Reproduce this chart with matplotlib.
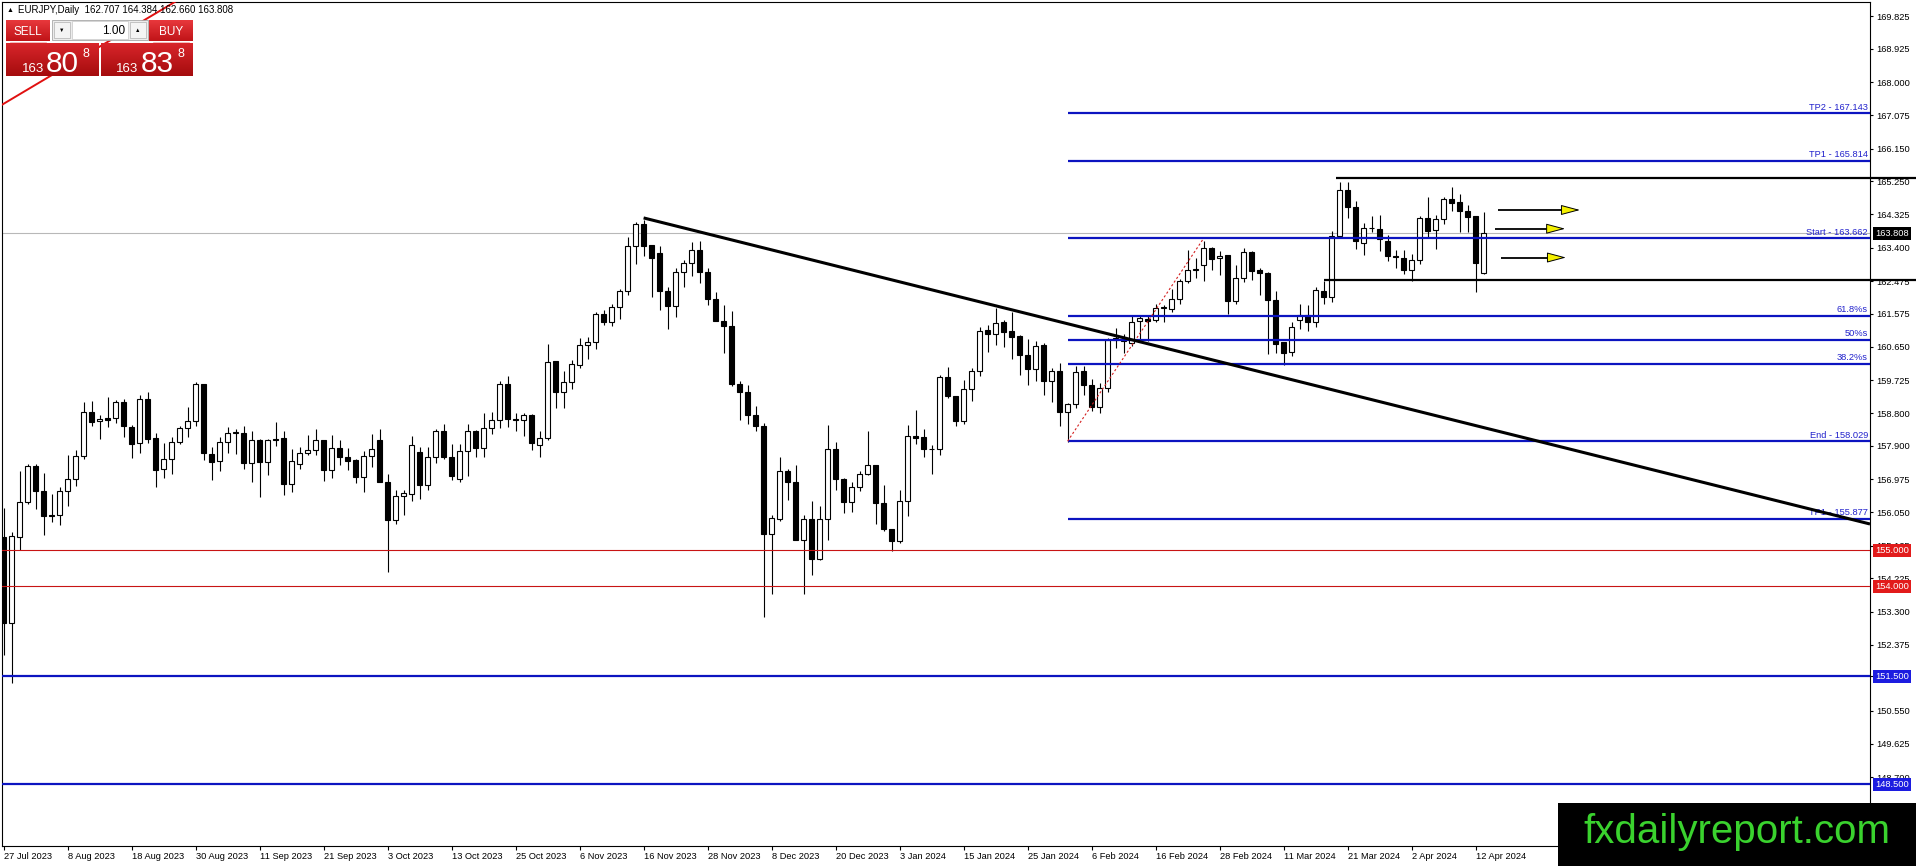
import numpy as np
import matplotlib
matplotlib.use("Agg")
import matplotlib.pyplot as plt
from matplotlib.patches import Rectangle
from matplotlib.colors import LinearSegmentedColormap

plt.rcParams['font.family'] = ['Liberation Sans', 'DejaVu Sans']

# EURJPY daily candles, 27 Jul 2023 .. 15 Apr 2024
OPEN = [155.36, 152.98, 155.38, 156.34, 157.33, 156.66, 155.97, 155.99, 156.65, 156.99,
        157.63, 158.85, 158.58, 158.66, 158.67, 159.11, 158.43, 157.98, 159.21, 158.11,
        157.25, 157.54, 158.01, 158.40, 158.60, 159.63, 157.68, 157.47, 158.02, 158.26,
        158.27, 157.42, 158.05, 157.45, 158.08, 158.11, 156.84, 157.39, 157.71, 157.79,
        158.05, 157.23, 157.85, 157.60, 157.50, 157.03, 157.62, 158.05, 156.91, 155.85,
        156.52, 156.57, 157.74, 156.81, 157.59, 158.30, 157.60, 156.98, 157.76, 158.32,
        157.84, 158.39, 158.62, 159.61, 158.64, 158.63, 158.76, 157.93, 158.11, 160.26,
        159.39, 159.67, 160.15, 160.70, 160.78, 161.56, 161.35, 161.75, 162.19, 163.44,
        164.07, 163.48, 163.25, 162.19, 161.79, 162.72, 162.98, 163.35, 162.73, 161.99,
        161.38, 161.23, 159.62, 159.39, 158.76, 158.46, 155.46, 155.88, 157.21, 156.91,
        155.29, 155.88, 154.76, 155.88, 157.82, 156.99, 156.34, 156.76, 157.12, 157.38,
        156.31, 155.59, 155.25, 156.38, 158.18, 158.14, 157.82, 157.82, 159.81, 159.29,
        158.58, 159.48, 159.97, 161.11, 161.02, 161.34, 161.08, 160.94, 160.43, 160.04,
        160.70, 159.69, 159.97, 158.84, 159.06, 159.99, 159.60, 158.99, 159.50, 160.85,
        160.80, 160.75, 161.36, 161.43, 161.40, 161.74, 161.71, 161.98, 162.48, 162.79,
        162.93, 163.39, 163.11, 163.21, 161.93, 162.56, 163.28, 162.77, 162.70, 161.94,
        160.79, 160.50, 161.40, 161.54, 161.35, 162.21, 162.03, 163.73, 165.01, 164.53,
        163.53, 163.95, 163.93, 163.60, 163.18, 163.13, 162.79, 163.07, 164.22, 163.90,
        164.21, 164.76, 164.66, 164.41, 164.27, 162.707]
HIGH = [156.17, 155.52, 157.19, 157.41, 157.41, 157.14, 156.56, 156.77, 157.65, 157.79,
        159.12, 159.14, 158.75, 159.25, 159.16, 159.21, 158.47, 159.30, 159.40, 158.26,
        157.97, 158.15, 158.45, 158.97, 159.66, 159.63, 157.88, 158.15, 158.41, 158.38,
        158.44, 158.31, 158.08, 158.10, 158.56, 158.31, 157.80, 157.86, 158.19, 158.36,
        158.05, 158.19, 158.07, 157.84, 157.53, 157.76, 158.24, 158.38, 157.12, 156.68,
        156.68, 158.16, 157.88, 157.88, 158.37, 158.51, 157.96, 157.96, 158.51, 158.35,
        158.81, 158.83, 159.69, 159.83, 158.81, 158.81, 158.79, 158.30, 160.73, 160.26,
        159.98, 160.29, 160.89, 160.93, 161.63, 161.68, 161.84, 162.26, 163.70, 164.11,
        164.18, 163.48, 163.44, 162.30, 162.84, 163.07, 163.56, 163.60, 162.84, 162.16,
        161.82, 161.65, 159.69, 159.60, 159.01, 158.53, 155.99, 157.60, 157.26, 157.38,
        155.99, 156.38, 156.22, 158.47, 158.01, 157.02, 156.89, 157.21, 158.30, 157.38,
        156.82, 155.59, 156.68, 158.49, 158.90, 158.37, 157.91, 159.86, 160.08, 159.29,
        159.74, 160.06, 161.19, 161.26, 161.74, 161.40, 161.61, 160.99, 160.87, 160.82,
        160.75, 160.06, 160.20, 159.09, 160.11, 160.11, 159.75, 159.64, 160.89, 161.17,
        161.00, 161.52, 161.52, 161.54, 161.84, 161.82, 162.26, 162.54, 163.35, 163.11,
        163.60, 163.41, 163.30, 163.21, 162.91, 163.39, 163.30, 162.84, 162.73, 162.21,
        160.79, 161.35, 161.85, 161.80, 162.31, 162.49, 163.88, 165.24, 165.22, 164.71,
        164.10, 164.29, 164.30, 163.76, 163.33, 163.34, 163.22, 164.29, 164.80, 164.32,
        164.81, 165.08, 164.89, 164.58, 164.29, 164.384]
LOW = [152.10, 151.31, 155.00, 156.28, 156.15, 155.43, 155.78, 155.71, 156.24, 156.79,
       157.53, 158.45, 158.09, 158.42, 158.53, 158.15, 157.56, 157.70, 157.98, 156.76,
       157.01, 157.12, 157.96, 158.15, 158.45, 157.52, 156.95, 157.20, 157.70, 157.67,
       157.27, 156.89, 156.48, 157.08, 157.89, 156.53, 156.62, 157.27, 157.65, 157.65,
       156.92, 157.01, 157.37, 157.23, 156.86, 156.61, 157.31, 156.89, 154.41, 155.73,
       155.98, 156.37, 156.43, 156.68, 157.42, 157.53, 156.95, 156.91, 157.05, 157.59,
       157.59, 158.23, 158.39, 158.41, 158.32, 158.18, 157.79, 157.59, 158.07, 158.95,
       158.96, 159.48, 160.06, 160.31, 160.60, 161.26, 161.23, 161.42, 162.10, 162.95,
       163.16, 162.03, 161.68, 161.15, 161.49, 162.32, 162.63, 162.42, 161.82, 161.37,
       160.48, 159.55, 158.62, 158.50, 158.30, 153.14, 153.79, 155.82, 156.40, 155.29,
       153.79, 154.32, 154.74, 155.29, 156.68, 156.03, 156.06, 156.65, 157.08, 155.73,
       155.54, 154.97, 155.20, 155.96, 157.96, 157.59, 157.11, 157.65, 159.23, 158.44,
       158.50, 159.15, 159.85, 160.52, 160.71, 160.64, 160.32, 159.87, 159.60, 159.71,
       159.30, 159.13, 158.44, 158.01, 158.95, 159.32, 158.86, 158.81, 159.39, 160.61,
       160.48, 160.66, 160.85, 160.82, 161.35, 161.35, 161.61, 161.84, 162.42, 162.56,
       162.47, 162.79, 162.65, 161.56, 161.84, 162.45, 162.50, 162.10, 160.46, 160.49,
       160.15, 160.40, 161.15, 161.10, 161.20, 161.83, 161.89, 163.73, 164.22, 163.36,
       163.21, 163.84, 163.32, 163.02, 162.84, 162.67, 162.49, 162.96, 163.67, 163.37,
       164.06, 164.41, 163.84, 163.85, 162.17, 162.660]
CLOSE = [152.98, 155.40, 156.35, 157.33, 156.64, 155.95, 155.96, 156.65, 156.99, 157.63,
         158.85, 158.57, 158.64, 158.62, 159.11, 158.45, 157.95, 159.21, 158.09, 157.23,
         157.54, 158.01, 158.40, 158.60, 159.63, 157.70, 157.45, 158.02, 158.27, 158.28,
         157.42, 158.05, 157.45, 158.05, 158.06, 156.84, 157.49, 157.71, 157.79, 158.05,
         157.23, 157.85, 157.59, 157.48, 157.03, 157.62, 157.82, 156.89, 155.85, 156.52,
         156.58, 157.93, 156.81, 157.59, 158.30, 157.59, 157.05, 157.76, 158.32, 157.84,
         158.39, 158.62, 159.61, 158.64, 158.63, 158.75, 157.97, 158.11, 160.24, 159.39,
         159.67, 160.17, 160.70, 160.78, 161.56, 161.34, 161.75, 162.19, 163.44, 164.07,
         163.44, 163.11, 162.21, 161.79, 162.72, 162.98, 163.35, 162.73, 161.99, 161.37,
         161.23, 159.62, 159.39, 158.76, 158.46, 155.46, 155.89, 157.21, 156.91, 155.29,
         155.88, 154.76, 155.88, 157.82, 156.99, 156.34, 156.76, 157.12, 157.38, 156.31,
         155.59, 155.25, 156.38, 158.18, 158.12, 157.82, 157.81, 159.81, 159.29, 158.58,
         159.48, 159.97, 161.10, 161.02, 161.31, 161.06, 160.92, 160.43, 160.04, 160.68,
         159.69, 159.97, 158.84, 159.06, 159.95, 159.60, 158.99, 159.50, 160.85, 160.89,
         160.86, 161.34, 161.45, 161.37, 161.73, 161.75, 161.98, 162.48, 162.79, 162.80,
         163.39, 163.10, 163.18, 161.93, 162.56, 163.28, 162.76, 162.70, 161.94, 160.73,
         160.47, 161.20, 161.54, 161.35, 162.23, 162.03, 163.73, 165.01, 164.53, 163.58,
         163.95, 163.96, 163.64, 163.18, 163.14, 162.79, 163.07, 164.22, 163.87, 164.21,
         164.76, 164.64, 164.41, 164.25, 162.97, 163.808]

DATE_IDX = list(range(0, 185, 8))
DATE_LABELS = ["27 Jul 2023", "8 Aug 2023", "18 Aug 2023", "30 Aug 2023", "11 Sep 2023",
               "21 Sep 2023", "3 Oct 2023", "13 Oct 2023", "25 Oct 2023", "6 Nov 2023",
               "16 Nov 2023", "28 Nov 2023", "8 Dec 2023", "20 Dec 2023", "3 Jan 2024",
               "15 Jan 2024", "25 Jan 2024", "6 Feb 2024", "16 Feb 2024", "28 Feb 2024",
               "11 Mar 2024", "21 Mar 2024", "2 Apr 2024", "12 Apr 2024"]
PRICE_TICKS = [169.825, 168.925, 168.000, 167.075, 166.150, 165.250, 164.325, 163.400,
               162.475, 161.575, 160.650, 159.725, 158.800, 157.900, 156.975, 156.050,
               155.125, 154.225, 153.300, 152.375, 151.500, 150.550, 149.625, 148.700]

# fibo expansion drawn from the 6 Feb low to the 1 Mar high
FIB_START, FIB_END = 133, 150
FIB_LEVELS = [167.143, 165.814, 163.662, 161.510, 160.846, 160.181, 158.029, 155.877]
FIB_LABELS = ["TP2 - 167.143", "TP1 - 165.814", "Start - 163.662", "61.8%s", "50%s",
              "38.2%s", "End - 158.029", "TP1 - 155.877"]

# horizontal levels with their price-scale boxes
RED_LEVELS = [155.0, 154.0]
BLUE_LEVELS = [151.5, 148.5]
BID = 163.808
RANGE_LEVELS = [165.33, 162.50]
RANGE_START = [166.5, 165.0]

# drawn objects (bar index, price)
TREND = ([80, 233.3], [164.23, 155.73])
RED_TREND = ([-0.45, 21.8], [167.34, 170.28])
ARROW_Y = [164.45, 163.93, 163.13]
ARROW_X0 = [186.8, 186.4, 187.2]
ARROW_X1 = [197.05, 195.2, 195.3]

# --- layout (pixels) ---
W, H = 1916, 866
PL, PR, PT, PB = 2, 1870, 2, 846
X0, BAR_PX = 3.6, 8.0
Y_REF, P_REF, PX_UNIT = 15, 169.865, 36.01

BLUE = '#0c14c0'
FS = 6.7

fig = plt.figure(figsize=(W / 100, H / 100), dpi=100, facecolor='white')
ax = fig.add_axes([PL / W, (H - PB) / H, (PR - PL) / W, (PB - PT) / H])
xl = ((PL - X0) / BAR_PX, (PR - X0) / BAR_PX)
yl = (P_REF - (PB - Y_REF) / PX_UNIT, P_REF + (Y_REF - PT) / PX_UNIT)
x_far = (W - X0) / BAR_PX

o, h, l, c = (np.array(v) for v in (OPEN, HIGH, LOW, CLOSE))
idx = np.arange(len(o))
up = c >= o
bottom = np.minimum(o, c)
height = np.maximum(np.abs(c - o), 0.012)

ax.vlines(idx, l, h, color='black', lw=0.8, zorder=2)
ax.bar(idx[up], height[up], 0.6, bottom[up], facecolor='white', edgecolor='black', lw=0.8, zorder=3)
ax.bar(idx[~up], height[~up], 0.6, bottom[~up], facecolor='black', edgecolor='black', lw=0.8, zorder=3)

# horizontal lines
ax.axhline(BID, color='#b8b8b8', lw=0.8, zorder=1)
for lvl in RED_LEVELS:
    ax.axhline(lvl, color='#c81414', lw=0.8, zorder=4)
for lvl in BLUE_LEVELS:
    ax.axhline(lvl, color=BLUE, lw=1.6, zorder=4)
for lvl, x_start in zip(RANGE_LEVELS, RANGE_START):
    ax.plot([x_start, x_far], [lvl, lvl], color='black', lw=1.6, zorder=6, clip_on=False,
            solid_capstyle='butt')

# fibo expansion
ax.hlines(FIB_LEVELS, FIB_START, xl[1], colors=BLUE, lw=1.6, zorder=5)
ax.plot([FIB_START, FIB_END], [FIB_LEVELS[6], FIB_LEVELS[2]], color='#d42020', lw=0.8,
        ls=(0, (2, 2)), zorder=5)
for lvl, lab in zip(FIB_LEVELS, FIB_LABELS):
    ax.text(1 - 2 / (PR - PL), lvl + 0.04, lab, transform=ax.get_yaxis_transform(),
            ha='right', va='bottom', fontsize=FS, color='#2222cc', zorder=6)

# trend lines
ax.plot(*TREND, color='black', lw=2.2, zorder=6, solid_capstyle='butt')
ax.plot(*RED_TREND, color='#e01010', lw=1.4, zorder=6)

# arrows: black shaft, yellow head
for y, xa, xb in zip(ARROW_Y, ARROW_X0, ARROW_X1):
    head = xb - 2.1
    ax.plot([xa, head], [y, y], color='black', lw=1.3, zorder=7, solid_capstyle='butt')
    ax.annotate('', xy=(xb, y), xytext=(head, y),
                arrowprops=dict(arrowstyle='-|>,head_length=1.2,head_width=0.32',
                                fc='#f4f000', ec='black', lw=0.7, shrinkA=0, shrinkB=0,
                                mutation_scale=10),
                zorder=8)

ax.set_xlim(*xl)
ax.set_ylim(*yl)

# axes look of the terminal
ax.yaxis.tick_right()
ax.set_yticks(PRICE_TICKS)
ax.set_yticklabels([f"{v:.3f}" for v in PRICE_TICKS], fontsize=FS)
ax.tick_params(axis='y', length=2.5, width=0.8, pad=2)
ax.set_xticks(DATE_IDX)
ax.set_xticklabels(DATE_LABELS, fontsize=FS, ha='left')
ax.tick_params(axis='x', length=3, width=0.8, pad=1.5)
for sp in ax.spines.values():
    sp.set_linewidth(0.8)
    sp.set_color('black')

# price-scale boxes
boxes = [(BID, 'black')] + [(v, '#e21b1b') for v in RED_LEVELS] + [(v, '#1c1ce0') for v in BLUE_LEVELS]
for lvl, col in boxes:
    ax.text(1 + 5 / (PR - PL), lvl, f"{lvl:.3f}", transform=ax.get_yaxis_transform(),
            ha='left', va='center', fontsize=FS, color='white', zorder=10, clip_on=False,
            bbox=dict(boxstyle='square,pad=0.22', fc=col, ec='none'))

# --- overlay in pixel coordinates: trade panel, header, watermark ---
ov = fig.add_axes([0, 0, 1, 1])
ov.set_zorder(5)
ov.patch.set_alpha(0)
ov.axis('off')


def grad_box(x0, y0, x1, y1, top, bot):
    cm = LinearSegmentedColormap.from_list('g', [top, bot])
    ov.imshow(np.linspace(0, 1, 32)[:, None], extent=(x0, x1, y1, y0), cmap=cm,
              aspect='auto', interpolation='bilinear', zorder=3)


ov.text(7, 12.5, '\u25b2', fontsize=5, va='baseline', color='black')
ov.text(18, 13, 'EURJPY,Daily  162.707 164.384 162.660 163.808', fontsize=7, va='baseline')

grad_box(6, 20, 50, 41, '#e8383c', '#c01418')
grad_box(149, 20, 193, 41, '#e8383c', '#c01418')
grad_box(6, 43, 99, 76, '#d8252a', '#a50c0e')
grad_box(101, 43, 193, 76, '#d8252a', '#a50c0e')
ov.add_patch(Rectangle((52, 20), 96, 20, fc='#ececec', ec='#a8a8a8', lw=0.6, zorder=3))
ov.add_patch(Rectangle((72, 21), 56, 18, fc='white', ec='#c8c8c8', lw=0.5, zorder=4))
ov.add_patch(Rectangle((54, 22), 16, 16, fc='#f4f4f4', ec='#b0b0b0', lw=0.5, zorder=4))
ov.add_patch(Rectangle((130, 22), 16, 16, fc='#f4f4f4', ec='#b0b0b0', lw=0.5, zorder=4))
ov.plot([10, 46], [41.5, 41.5], color='#f0a0a0', lw=0.5, zorder=4)
ov.plot([153, 189], [41.5, 41.5], color='#f0a0a0', lw=0.5, zorder=4)
ov.text(62, 30, '\u25bc', fontsize=4, ha='center', va='center', zorder=5)
ov.text(138, 30, '\u25b2', fontsize=4, ha='center', va='center', zorder=5)
ov.text(125, 34, '1.00', fontsize=8.5, ha='right', va='baseline', zorder=5)
ov.text(28, 35, 'SELL', fontsize=8.5, ha='center', va='baseline', color='white', zorder=5)
ov.text(171, 35, 'BUY', fontsize=8.5, ha='center', va='baseline', color='white', zorder=5)
for x_big, x_sub, x_sup, big in [(46, 22, 83, '80'), (141, 116, 178, '83')]:
    ov.text(x_sub, 71.5, '163', fontsize=9.5, va='baseline', color='white', zorder=5)
    ov.text(x_big, 71.5, big, fontsize=21.5, va='baseline', color='white', zorder=5)
    ov.text(x_sup, 57, '8', fontsize=9, va='baseline', color='white', zorder=5)

ov.add_patch(Rectangle((1558, 803), W - 1558, H - 803, fc='black', ec='none', zorder=3))
ov.text(1737, 843, 'fxdailyreport.com', fontsize=29, ha='center', va='baseline',
        color='#3ad22e', zorder=4)

ov.set_xlim(0, W)
ov.set_ylim(H, 0)

fig.savefig('out.png', dpi=100, facecolor='white')
